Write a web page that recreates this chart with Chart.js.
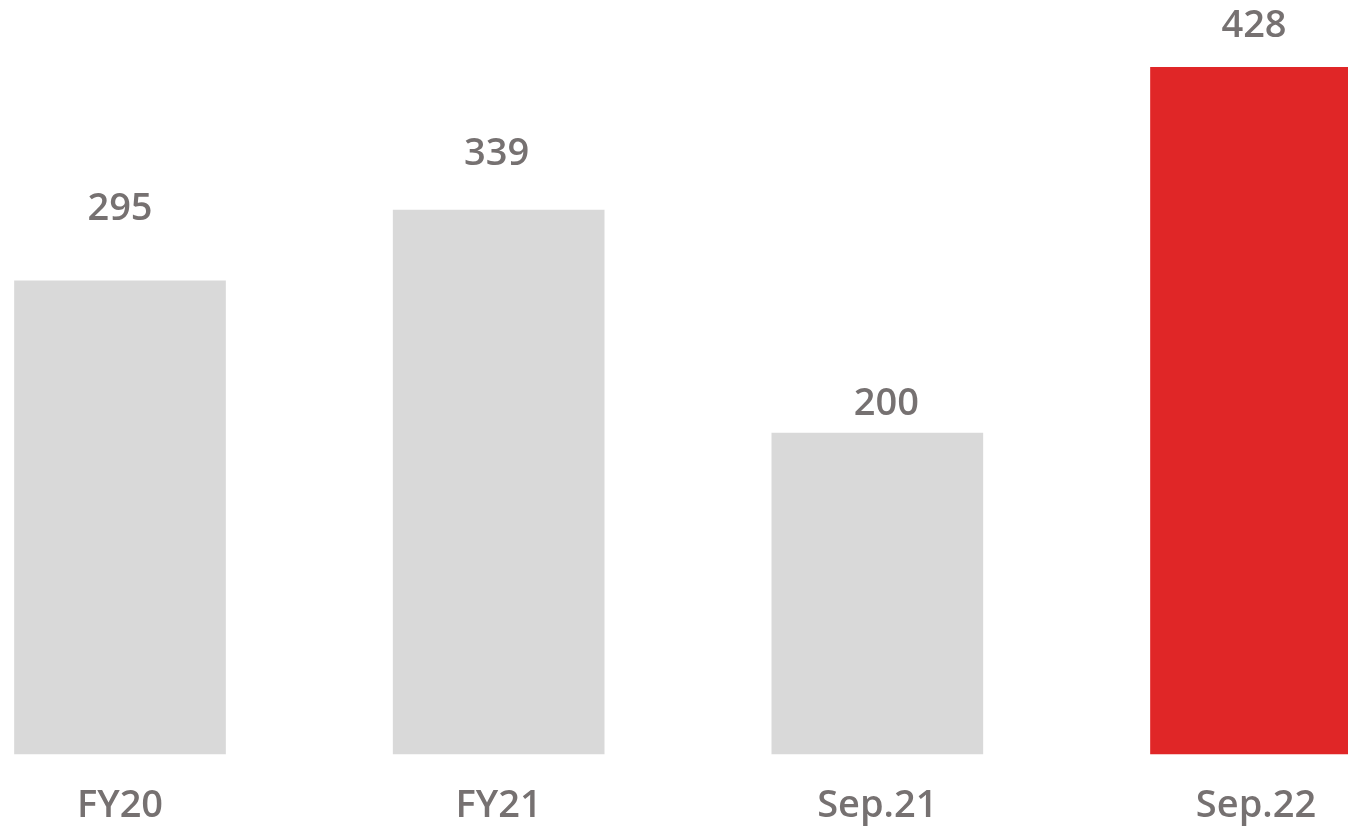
<!DOCTYPE html>
<html>
<head>
<meta charset="utf-8">
<script src="https://cdn.jsdelivr.net/npm/chart.js@4/dist/chart.umd.min.js"></script>
<style>
  html, body { margin: 0; padding: 0; background: #ffffff; }
  #wrap { position: relative; width: 1348px; height: 827px; }
</style>
</head>
<body>
<div id="wrap"><canvas id="chart"></canvas></div>
<script>
// Values per period
const categories = ['FY20', 'FY21', 'Sep.21', 'Sep.22'];
const values = [295, 339, 200, 428];

// Styling
const barColors = ['#D9D9D9', '#D9D9D9', '#D9D9D9', '#E02627'];
const textColor = '#767171';
const fontFamily = '"Open Sans", "Noto Sans", sans-serif';
// distance in px from each bar top to its value label baseline
const labelLift = [61, 45, 18, 30];
// horizontal nudge of each value label from the bar centre
const labelShift = [0, -2, 9, -2];

const valueLabels = {
  id: 'valueLabels',
  afterDatasetsDraw(chart) {
    const ctx = chart.ctx;
    const meta = chart.getDatasetMeta(0);
    ctx.save();
    ctx.font = '600 38px ' + fontFamily;
    ctx.fillStyle = textColor;
    ctx.textAlign = 'center';
    ctx.textBaseline = 'alphabetic';
    meta.data.forEach((bar, i) => {
      ctx.fillText(String(values[i]), bar.x + labelShift[i], bar.y - labelLift[i]);
    });
    ctx.restore();
  }
};

new Chart(document.getElementById('chart'), {
  type: 'bar',
  data: {
    labels: categories,
    datasets: [{
      data: values,
      backgroundColor: barColors,
      borderWidth: 0,
      barThickness: 211,
      clip: false
    }]
  },
  options: {
    responsive: true,
    maintainAspectRatio: false,
    animation: false,
    layout: { padding: { left: 120, right: 92, top: 0, bottom: 0 } },
    plugins: {
      legend: { display: false },
      tooltip: { enabled: false }
    },
    scales: {
      x: {
        offset: false,
        grid: { display: false, drawTicks: false },
        border: { display: false },
        afterFit(scale) { scale.height = 73; },
        ticks: {
          color: textColor,
          padding: 29,
          font: { family: fontFamily, size: 38, weight: '600', lineHeight: 1.2 }
        }
      },
      y: {
        display: false,
        min: 0,
        max: 470
      }
    }
  },
  plugins: [valueLabels]
});
</script>
</body>
</html>
